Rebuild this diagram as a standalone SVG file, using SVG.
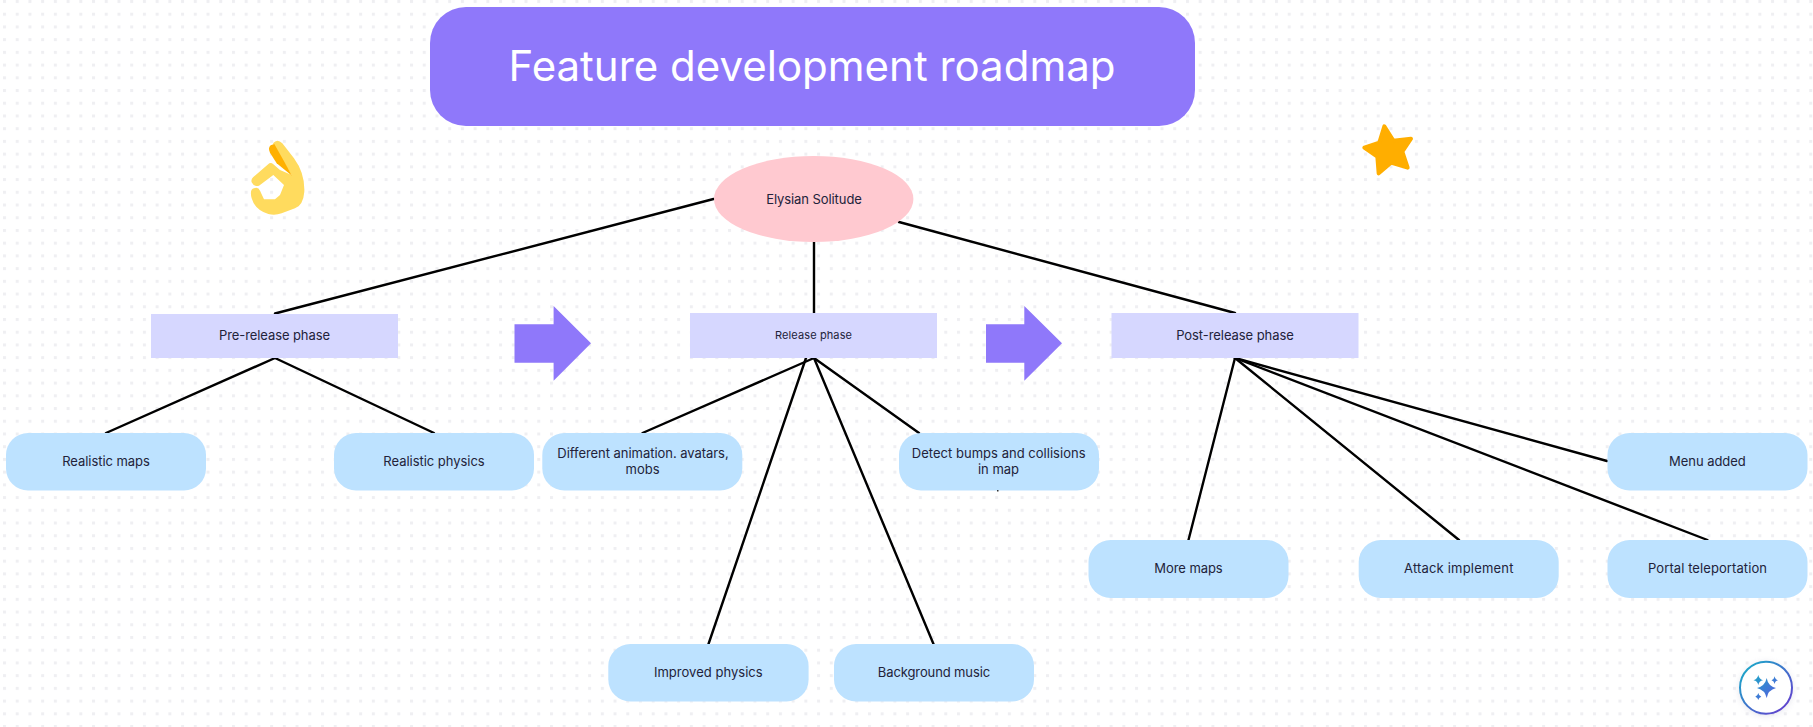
<svg xmlns="http://www.w3.org/2000/svg" width="1813" height="727" viewBox="0 0 1813 727">
<style>
text{font-family:"Inter","Liberation Sans",sans-serif;font-size:13px;fill:#22223a;text-anchor:middle}
.phase{fill:#d6d7ff}
.leaf{fill:#bde2ff}
.pur{fill:#8f78fa}
#connectors line{stroke:#000;stroke-width:2.4;stroke-linecap:round}
</style>
<defs>
<pattern id="dots" width="12.72" height="12.72" patternUnits="userSpaceOnUse" x="3" y="0">
<rect x="0" y="0" width="3" height="3" fill="#efeff2"/>
</pattern>
<linearGradient id="ring" x1="0" y1="0" x2="1" y2="1">
<stop offset="0" stop-color="#14b3c8"/><stop offset="1" stop-color="#6a35cf"/>
</linearGradient>
<linearGradient id="spark" x1="0" y1="0" x2="1" y2="1">
<stop offset="0" stop-color="#1fa5c8"/><stop offset="1" stop-color="#5a55e0"/>
</linearGradient>
<filter id="soft" x="-30%" y="-30%" width="160%" height="160%"><feGaussianBlur stdDeviation="3"/></filter>
</defs>
<rect width="1813" height="727" fill="#fff"/>
<rect width="1813" height="727" fill="url(#dots)"/>
<g id="connectors">
<line x1="713.5" y1="199" x2="275" y2="313.5"/>
<line x1="814" y1="242" x2="814" y2="313"/>
<line x1="899" y1="222" x2="1235" y2="313"/>
<line x1="275" y1="358" x2="106" y2="433"/>
<line x1="275" y1="358" x2="434" y2="433"/>
<line x1="814" y1="358" x2="642.5" y2="433"/>
<line x1="806" y1="358" x2="708.5" y2="644"/>
<line x1="814" y1="358" x2="933.5" y2="644"/>
<line x1="814" y1="358" x2="919" y2="433"/>
<line x1="1235" y1="358" x2="1188.5" y2="540"/>
<line x1="1235" y1="358" x2="1459" y2="540"/>
<line x1="1235" y1="358" x2="1707.5" y2="540"/>
<line x1="1235" y1="358" x2="1607" y2="461"/>
</g>
<g id="title">
<rect class="pur" x="430" y="7" width="765" height="119" rx="36"/>
<text x="812" y="81" style="font-size:42px;fill:#fff" textLength="607">Feature development roadmap</text>
</g>
<g id="ok-hand" transform="translate(220 120) scale(.3333)">
<path fill="#ffdb5e" fill-rule="evenodd" d="M159 70Q172 55 187 70L222 115Q255 160 253 215Q250 255 225 265L185 280Q165 287 145 282Q105 270 95 235Q88 208 102 205Q115 200 120 212L132 238H165L180 225L192 195L160 165L117 197Q102 202 95 187Q92 178 100 171L148 130Q154 127 160 133L180 150L215 165L190 125Z"/>
<path fill="#ffb000" d="M152 76Q143 84 150 98L170 130L216 167L190 120L163 72Z"/>
</g>
<g id="star" transform="translate(1300 100) scale(.3333)">
<path fill="#ffae00" stroke="#ffae00" stroke-width="12" stroke-linejoin="round" d="M253 79L280 122L333 116L307 155L323 203L273 188L236 220L232 170L193 143L238 128Z"/>
</g>
<g id="root">
<ellipse cx="813.7" cy="199" rx="99.7" ry="43" fill="#ffc9d0"/>
<text x="814" y="203.5" textLength="95.7">Elysian Solitude</text>
</g>
<g id="pre-release">
<rect class="phase" x="151" y="314" width="247" height="44"/>
<text x="274.5" y="339.5" textLength="111">Pre-release phase</text>
</g>
<g id="release">
<rect class="phase" x="690" y="313" width="247" height="45"/>
<text x="813.5" y="339" style="font-size:11px" textLength="77">Release phase</text>
</g>
<g id="post-release">
<rect class="phase" x="1111.5" y="313" width="247" height="45"/>
<text x="1235" y="339.5" textLength="117.7">Post-release phase</text>
</g>
<g id="arrow-1"><path class="pur" d="M514.5 324.3H553.6V306L591 343.3L553.6 380.7V362.7H514.5Z"/></g>
<g id="arrow-2"><path class="pur" d="M986 324.3H1024.3V306L1062 343.3L1024.3 380.7V362.7H986Z"/></g>
<g id="realistic-maps">
<rect class="leaf" x="6" y="433" width="200" height="57.5" rx="22"/>
<text x="106" y="466" textLength="87.7">Realistic maps</text>
</g>
<g id="realistic-physics">
<rect class="leaf" x="334" y="433" width="200" height="57.5" rx="22"/>
<text x="434" y="466" textLength="101.4">Realistic physics</text>
</g>
<g id="different-animation">
<rect class="leaf" x="542.3" y="433" width="200" height="57.5" rx="22"/>
<text x="643" y="458" textLength="171.4">Different animation. avatars,</text>
<text x="642.5" y="474" textLength="34">mobs</text>
</g>
<g id="detect-bumps">
<rect class="leaf" x="899" y="433" width="200" height="57.5" rx="22"/>
<text x="998.7" y="458" textLength="173.7">Detect bumps and collisions</text>
<text x="998.5" y="474" textLength="41">in map</text>
<rect x="997" y="490" width="1.5" height="1.5" fill="#333"/>
</g>
<g id="menu-added">
<rect class="leaf" x="1607.5" y="433" width="200" height="57.5" rx="22"/>
<text x="1707.4" y="466" textLength="76.7">Menu added</text>
</g>
<g id="more-maps">
<rect class="leaf" x="1088.5" y="540" width="200" height="58" rx="22"/>
<text x="1188.5" y="573" textLength="68.3">More maps</text>
</g>
<g id="attack-implement">
<rect class="leaf" x="1358.7" y="540" width="200" height="58" rx="22"/>
<text x="1458.7" y="573" textLength="109.4">Attack implement</text>
</g>
<g id="portal-teleportation">
<rect class="leaf" x="1607.5" y="540" width="200" height="58" rx="22"/>
<text x="1707.5" y="573" textLength="119">Portal teleportation</text>
</g>
<g id="improved-physics">
<rect class="leaf" x="608.3" y="644" width="200.3" height="57.5" rx="22"/>
<text x="708.3" y="677.3" textLength="108.7">Improved physics</text>
</g>
<g id="background-music">
<rect class="leaf" x="834" y="644" width="200" height="57.5" rx="22"/>
<text x="934" y="677.3" textLength="112.3">Background music</text>
</g>
<g id="ai-button">
<circle cx="1766" cy="689" r="27" fill="#c8c8d8" opacity=".45" filter="url(#soft)"/>
<circle cx="1766" cy="687.7" r="26" fill="#fff" stroke="url(#ring)" stroke-width="2"/>
<path fill="url(#spark)" d="M1766.7 678Q1768 686 1776 688Q1768 690 1766.7 698Q1765 690 1757 688Q1765 686 1766.7 678ZM1758.3 675Q1759 679 1763 680.3Q1759 681 1758.3 685Q1757.5 681 1753.5 680.3Q1757.5 679 1758.3 675ZM1774.7 676.3Q1775 679.5 1778 680.3Q1775 681 1774.7 684Q1774 681 1771.5 680.3Q1774 679.5 1774.7 676.3ZM1758.3 693Q1758.7 695.8 1761.3 696.7Q1758.7 697.4 1758.3 700Q1757.8 697.4 1755.3 696.7Q1757.8 695.8 1758.3 693Z"/>
</g>
</svg>
